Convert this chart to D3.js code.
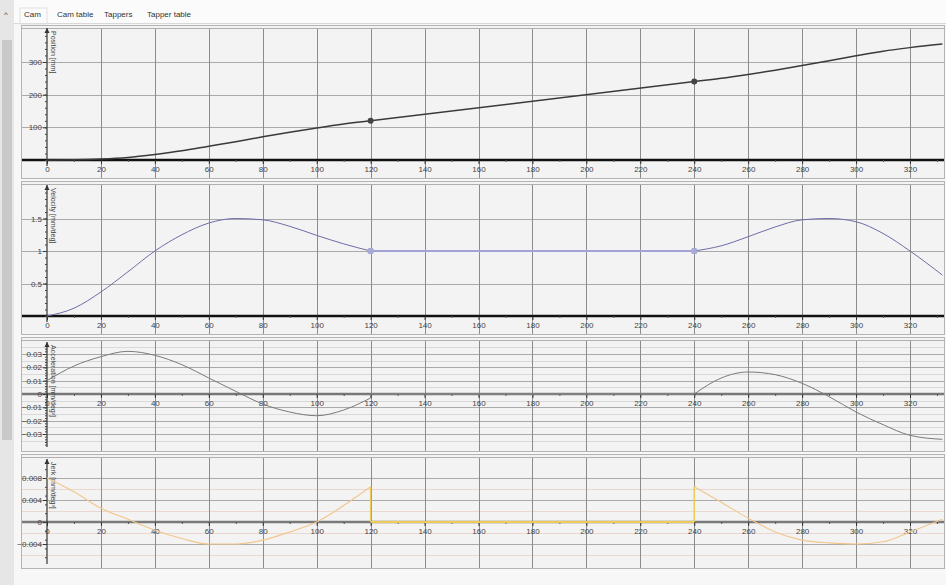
<!DOCTYPE html>
<html><head>
<meta charset="utf-8">
<title>Cam</title>
<script src="https://d3js.org/d3.v7.min.js"></script>
<style>
  body { margin:0; background:#f7f7f7; font-family:"Liberation Sans", Arial, sans-serif; }
  .tick text { font-size:8px; fill:#444; font-family:"Liberation Sans", Arial, sans-serif; }
  .tab { font-size:8px; fill:#333; }
</style>
</head>
<body>
<svg id="chart" width="946" height="585"></svg>
<script>
// ---- data ----
const xTicks = [0, 20, 40, 60, 80, 100, 120, 140, 160, 180, 200, 220, 240, 260, 280, 300, 320];
const riseX   = [0, 10, 20, 30, 40, 50, 60, 70, 80, 90, 100, 110, 120];
const dwellX  = [120, 240];
const returnX = [240, 250, 260, 270, 280, 290, 300, 310, 320, 332];

const posRise   = [0, 0.5, 3, 8, 17, 28, 42, 56, 71, 85, 98, 110, 120];
const posDwell  = [120, 240];
const posReturn = [240, 250, 262, 275, 289, 304, 319, 333, 344, 355];

const velRise   = [0, 0.12, 0.37, 0.68, 1.0, 1.25, 1.43, 1.5, 1.48, 1.38, 1.24, 1.11, 1.0];
const velDwell  = [1, 1];
const velReturn = [1.0, 1.08, 1.22, 1.37, 1.48, 1.5, 1.45, 1.27, 1.0, 0.63];

const accRise   = [0.01, 0.021, 0.028, 0.032, 0.029, 0.022, 0.012, 0.002, -0.0075, -0.0135, -0.0163, -0.012, -0.003];
const accDwell  = [0, 0];
const accReturn = [0, 0.012, 0.0165, 0.0145, 0.008, -0.002, -0.0135, -0.023, -0.031, -0.034];

const jerkRise   = [0.008, 0.0055, 0.0025, 0.0005, -0.0015, -0.003, -0.004, -0.004, -0.0033, -0.0018, 0, 0.003, 0.0064];
const jerkDwell  = [0, 0];
const jerkReturn = [0.0064, 0.0036, 0.0007, -0.0018, -0.0033, -0.0038, -0.004, -0.0036, -0.0018, 0.0005];

const posTicks  = [100, 200, 300];
const velTicks  = [0.5, 1, 1.5];
const accTicks  = [-0.03, -0.02, -0.01, 0, 0.01, 0.02, 0.03];
const jerkTicks = [-0.004, 0, 0.004, 0.008];
const accMinor  = [-0.035, -0.025, -0.015, -0.005, 0.005, 0.015, 0.025, 0.035];
const jerkMinor = [-0.006, -0.002, 0.002, 0.006];

const tabs = ["Cam", "Cam table", "Tappers", "Tapper table"];
const tabX = [24, 57, 104, 147];

// ---- layout ----
const svg = d3.select("#chart");
const frameLeft = 21, frameRight = 944;
const x = d3.scaleLinear().domain([0, 320]).range([47, 910]);

// window chrome: tabs and left strip
svg.append("rect").attr("x", 0).attr("y", 0).attr("width", 946).attr("height", 585).attr("fill", "#f7f7f7");
svg.append("rect").attr("x", 0).attr("y", 0).attr("width", 946).attr("height", 24).attr("fill", "#fbfbfb");
svg.append("line").attr("x1", 14).attr("x2", 946).attr("y1", 23.5).attr("y2", 23.5).attr("stroke", "#d8d8d8");
svg.append("rect").attr("x", 0).attr("y", 0).attr("width", 14).attr("height", 585).attr("fill", "#e6e6e6");
svg.append("rect").attr("x", 2).attr("y", 40).attr("width", 10).attr("height", 400).attr("fill", "#c9c9c9");
svg.append("text").attr("x", 4).attr("y", 17).attr("class", "tab").text("^");
svg.selectAll(".tab-label").data(tabs).join("text")
   .attr("class", "tab tab-label")
   .attr("x", (d, i) => tabX[i]).attr("y", 17)
   .text(d => d);
svg.append("rect").attr("x", 20).attr("y", 8).attr("width", 27).attr("height", 16).attr("fill", "none").attr("stroke", "#e0e0e0");

const panels = [
  { title: "Position [mm]", top: 25, bottom: 178, dom: [0, 300], rng: [160, 62],
    ticks: posTicks, minor: [], segs: [posRise, posDwell, posReturn],
    color: "#3a3a3a", width: 1.5, dwellColor: "#3a3a3a", dwellWidth: 1.5,
    zeroColor: "#111", zeroWidth: 2.5, axisTop: 28, axisBottom: 166,
    points: [[120, 120], [240, 240]], pointShape: "circle", pointColor: "#444" },
  { title: "Velocity [mm/deg]", top: 181, bottom: 334, dom: [0, 1.5], rng: [316, 218.5],
    ticks: velTicks, minor: [], segs: [velRise, velDwell, velReturn],
    color: "#6d6da8", width: 1, dwellColor: "#a2a2d6", dwellWidth: 2.2,
    zeroColor: "#111", zeroWidth: 2.5, axisTop: 185, axisBottom: 322,
    points: [[120, 1], [240, 1]], pointShape: "square", pointColor: "#a9a9d8" },
  { title: "Acceleration [mm/deg\u00b2]", top: 337, bottom: 451, dom: [-0.03, 0.03], rng: [434, 354],
    ticks: accTicks.filter(d => d !== 0), minor: accMinor, segs: [accRise, accDwell, accReturn],
    color: "#7a7a7a", width: 1, dwellColor: "#8a8a8a", dwellWidth: 1,
    zeroColor: "#777", zeroWidth: 2.5, axisTop: 342, axisBottom: 447,
    points: [], pointShape: "none", pointColor: "#777", zeroLabel: true },
  { title: "Jerk [mm/deg\u00b3]", top: 454, bottom: 568, dom: [-0.004, 0.008], rng: [544, 478],
    ticks: jerkTicks.filter(d => d !== 0), minor: jerkMinor, segs: [jerkRise, jerkDwell, jerkReturn],
    color: "#f2c68c", width: 1.1, dwellColor: "#eccb5a", dwellWidth: 2,
    zeroColor: "#7a7a7a", zeroWidth: 2.5, axisTop: 459, axisBottom: 564,
    points: [], pointShape: "none", pointColor: "#777", zeroLabel: true }
];
const segX = [riseX, dwellX, returnX];

panels.forEach((p, pi) => {
  const y = d3.scaleLinear().domain(p.dom).range(p.rng);
  const g = svg.append("g");
  const zeroY = y(0);

  // frame
  g.append("rect").attr("x", frameLeft + 0.5).attr("y", p.top + 0.5)
   .attr("width", frameRight - frameLeft).attr("height", p.bottom - p.top)
   .attr("fill", "#f3f3f3").attr("stroke", "#b4b4b4");
  g.append("line").attr("x1", frameLeft).attr("x2", frameRight)
   .attr("y1", p.top + 3.5).attr("y2", p.top + 3.5).attr("stroke", "#b0b0b0");

  // minor horizontal grid
  g.selectAll(".minor").data(p.minor).join("line")
   .attr("x1", frameLeft + 1).attr("x2", frameRight)
   .attr("y1", d => Math.round(y(d)) + 0.5).attr("y2", d => Math.round(y(d)) + 0.5)
   .attr("stroke", pi === 3 ? "#ead8cf" : "#d9d9d9").attr("stroke-width", 1);

  // major horizontal grid
  g.selectAll(".hgrid").data(p.ticks).join("line")
   .attr("x1", frameLeft + 1).attr("x2", frameRight)
   .attr("y1", d => Math.round(y(d)) + 0.5).attr("y2", d => Math.round(y(d)) + 0.5)
   .attr("stroke", "#aaaaaa").attr("stroke-width", 1);

  // vertical grid
  g.selectAll(".vgrid").data(xTicks.filter(d => d > 0)).join("line")
   .attr("x1", d => Math.round(x(d)) + 0.5).attr("x2", d => Math.round(x(d)) + 0.5)
   .attr("y1", p.top + 4).attr("y2", p.bottom)
   .attr("stroke", "#8c8c8c").attr("stroke-width", 1);

  // zero line (x axis)
  g.append("line").attr("x1", frameLeft + 1).attr("x2", frameRight)
   .attr("y1", zeroY).attr("y2", zeroY)
   .attr("stroke", p.zeroColor).attr("stroke-width", p.zeroWidth);

  // x axis ticks and labels
  const xAxis = g.append("g").attr("transform", "translate(0," + zeroY + ")")
    .call(d3.axisBottom(x).tickValues(xTicks).tickSize(4).tickPadding(2).tickFormat(d3.format("d")));
  xAxis.select(".domain").remove();
  xAxis.selectAll(".tick line").attr("stroke", "#333");
  g.append("g").attr("transform", "translate(0," + zeroY + ")")
    .call(d3.axisBottom(x).tickValues(d3.range(10, 340, 20)).tickSize(2).tickFormat(""))
    .call(a => a.select(".domain").remove())
    .selectAll(".tick line").attr("stroke", "#555");

  // y axis line with arrow
  const ax = x(0);
  g.append("line").attr("x1", ax).attr("x2", ax).attr("y1", p.axisTop).attr("y2", p.axisBottom)
   .attr("stroke", "#333").attr("stroke-width", 1.2);
  g.append("path").attr("d", d3.line()([[ax - 2.5, p.axisTop + 5], [ax, p.axisTop], [ax + 2.5, p.axisTop + 5]]))
   .attr("fill", "#333");

  const yLabels = p.zeroLabel ? p.ticks.concat([0]) : p.ticks;
  const yAxis = g.append("g").attr("transform", "translate(" + ax + ",0)")
    .call(d3.axisLeft(y).tickValues(yLabels).tickSize(4).tickPadding(1)
      .tickFormat(d => d3.format("~g")(d)));
  yAxis.select(".domain").remove();
  yAxis.selectAll(".tick line").attr("stroke", "#333");

  // minor y ticks
  const step = (p.ticks[1] - p.ticks[0]) / 5;
  const yLo = y.invert(p.axisBottom), yHi = y.invert(p.axisTop + 6);
  const minorTicks = d3.range(Math.ceil(yLo / step) * step, yHi, step);
  g.append("g").attr("transform", "translate(" + ax + ",0)")
    .call(d3.axisLeft(y).tickValues(minorTicks).tickSize(2).tickFormat(""))
    .call(a => a.select(".domain").remove())
    .selectAll(".tick line").attr("stroke", "#444");

  // rotated axis title
  g.append("text").attr("transform", "translate(" + (ax + 4) + "," + (p.axisTop + 3) + ") rotate(90)")
   .attr("font-size", 7).attr("fill", "#444").text(p.title);

  // curves
  const line = d3.line().x(d => x(d[0])).y(d => y(d[1])).curve(d3.curveMonotoneX);
  p.segs.forEach((vals, si) => {
    const pts = segX[si].map((xv, i) => [xv, vals[i]]);
    g.append("path").attr("d", line(pts)).attr("fill", "none")
     .attr("stroke", si === 1 ? p.dwellColor : p.color)
     .attr("stroke-width", si === 1 ? p.dwellWidth : p.width);
  });

  // jumps at segment joints (acceleration / jerk)
  if (pi >= 2) {
    const jumps = [[120, p.segs[0][p.segs[0].length - 1]], [240, p.segs[2][0]]];
    g.selectAll(".jump").data(jumps).join("line")
     .attr("x1", d => x(d[0])).attr("x2", d => x(d[0]))
     .attr("y1", zeroY).attr("y2", d => y(d[1]))
     .attr("stroke", pi === 3 ? "#eccb5a" : p.color).attr("stroke-width", pi === 3 ? 1.5 : 1);
  }

  // segment markers
  if (p.pointShape === "circle") {
    g.selectAll(".pt").data(p.points).join("circle")
     .attr("cx", d => x(d[0])).attr("cy", d => y(d[1])).attr("r", 3)
     .attr("fill", p.pointColor);
  } else if (p.pointShape === "square") {
    g.selectAll(".pt").data(p.points).join("rect")
     .attr("x", d => x(d[0]) - 3).attr("y", d => y(d[1]) - 3)
     .attr("width", 6).attr("height", 6).attr("rx", 1.5)
     .attr("fill", p.pointColor);
  }
});
</script>
</body>
</html>
